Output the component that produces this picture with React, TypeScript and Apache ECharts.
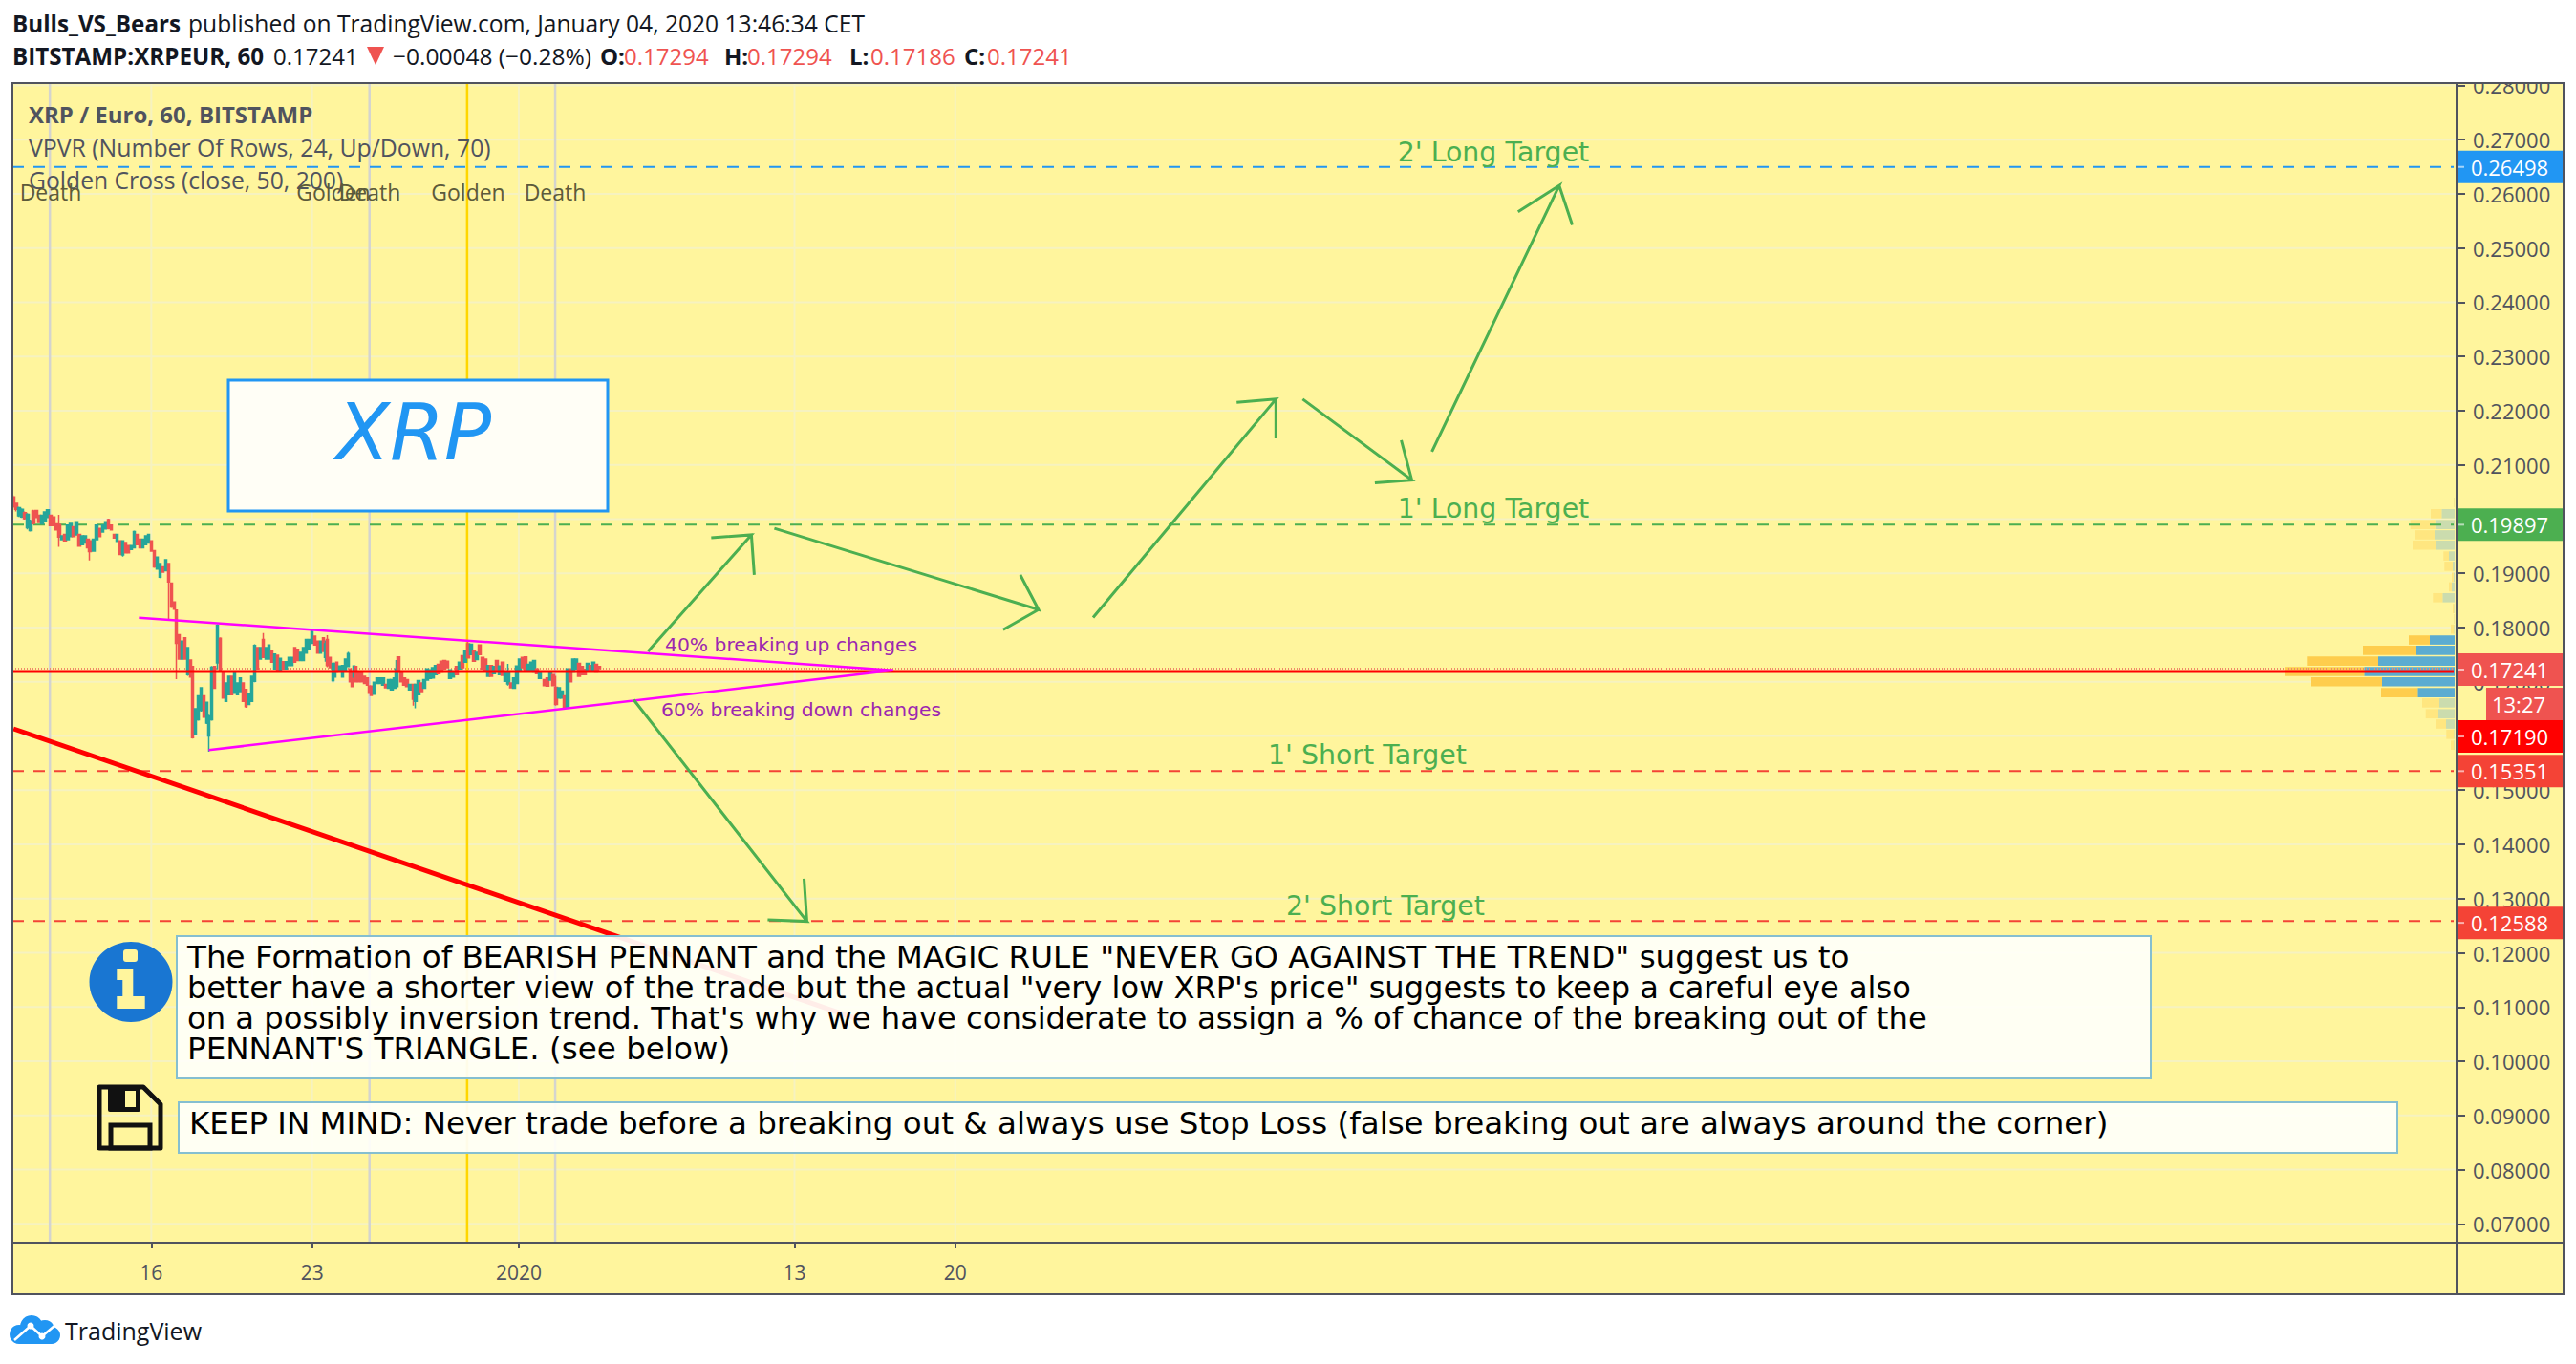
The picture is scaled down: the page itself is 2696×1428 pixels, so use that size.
import React, { useEffect, useRef } from "react";
import * as echarts from "echarts";

const PAGE_W = 2696, PAGE_H = 1428;
const PANE = { left: 13, top: 87, right: 2571, bottom: 1301 };
const xAxisMin = -529.1, xAxisMax = 2024.6;
const yAxisMin = 0.06652, yAxisMax = 0.28044;

// hours since 2020-01-01: label
const timeTicks: [number, string][] = [[-384, "16"], [-216, "23"], [0, "2020"], [288, "13"], [456, "20"]];
const priceTicks = [0.07, 0.08, 0.09, 0.1, 0.11, 0.12, 0.13, 0.14, 0.15, 0.16, 0.17, 0.18, 0.19, 0.2, 0.21, 0.22, 0.23, 0.24, 0.25, 0.26, 0.27, 0.28];

// [hour, open, close, low, high]
const candles: number[][] = [
[-528,.2041,.2023,.2020,.2044],[-525,.2029,.2018,.2014,.2030],[-522,.2006,.2021,.2004,.2023],[-519,.2004,.2018,.2002,.2020],
[-516,.2012,.2001,.1999,.2014],[-513,.1984,.2009,.1981,.2011],[-510,.1979,.1997,.1977,.1999],[-507,.2015,.1992,.1990,.2017],
[-504,.2016,.2003,.2002,.2017],[-501,.2007,.1994,.1993,.2008],[-498,.1991,.2007,.1990,.2008],[-495,.1997,.2013,.1996,.2014],
[-492,.2003,.2017,.2002,.2018],[-489,.2007,.1988,.1987,.2008],[-486,.2004,.1988,.1987,.2005],[-483,.1991,.1980,.1979,.1992],
[-480,.1990,.1967,.1949,.2008],[-477,.1962,.1969,.1961,.1970],[-474,.1972,.1960,.1959,.1973],[-471,.1962,.1989,.1961,.1990],
[-468,.1968,.1992,.1967,.1993],[-465,.1986,.1968,.1967,.1987],[-462,.1971,.1995,.1970,.1996],[-459,.1972,.1950,.1949,.1973],
[-456,.1953,.1969,.1952,.1970],[-453,.1956,.1969,.1955,.1970],[-450,.1963,.1947,.1946,.1964],[-448,.1960,.1940,.1924,.1961],
[-444,.1941,.1963,.1940,.1964],[-441,.1962,.1989,.1961,.1990],[-438,.1983,.1968,.1967,.1984],[-435,.1976,.1989,.1975,.1990],
[-432,.1982,.1995,.1981,.1996],[-429,.1999,.1983,.1981,.2001],[-426,.1989,.1980,.1979,.1990],[-423,.1972,.1965,.1964,.1973],
[-420,.1959,.1972,.1958,.1973],[-417,.1960,.1935,.1934,.1961],[-414,.1934,.1960,.1931,.1961],[-411,.1957,.1938,.1937,.1958],
[-408,.1951,.1938,.1937,.1952],[-405,.1944,.1951,.1943,.1952],[-402,.1947,.1977,.1946,.1979],[-399,.1972,.1953,.1952,.1973],
[-396,.1963,.1947,.1946,.1964],[-393,.1947,.1963,.1946,.1964],[-390,.1953,.1969,.1952,.1970],[-387,.1956,.1972,.1955,.1973],
[-384,.1960,.1941,.1940,.1961],[-381,.1942,.1912,.1910,.1943],[-378,.1908,.1930,.1907,.1931],[-375,.1893,.1918,.1891,.1919],
[-372,.1912,.1902,.1901,.1913],[-369,.1905,.1925,.1904,.1926],[-366,.1918,.1884,.1815,.1919],[-363,.1882,.1838,.1836,.1883],
[-360,.1847,.1834,.1833,.1848],[-358,.1832,.1771,.1705,.1833],[-355,.1787,.1742,.1741,.1788],[-352,.1742,.1775,.1741,.1776],
[-349,.1781,.1742,.1741,.1782],[-346,.1713,.1763,.1711,.1764],[-343,.1740,.1709,.1708,.1741],[-341,.1728,.1597,.1595,.1729],
[-338,.1603,.1650,.1601,.1651],[-335,.1630,.1674,.1628,.1675],[-332,.1647,.1689,.1645,.1690],[-329,.1674,.1635,.1633,.1675],
[-326,.1624,.1662,.1622,.1663],[-324,.1600,.1637,.1571,.1639],[-321,.1630,.1727,.1628,.1729],[-318,.1728,.1688,.1687,.1729],
[-315,.1735,.1804,.1723,.1806],[-312,.1780,.1719,.1717,.1782],[-309,.1716,.1670,.1669,.1717],[-306,.1664,.1698,.1663,.1699],
[-303,.1676,.1710,.1675,.1711],[-300,.1710,.1676,.1675,.1711],[-297,.1679,.1716,.1678,.1717],[-294,.1676,.1698,.1675,.1699],
[-291,.1682,.1707,.1681,.1708],[-288,.1698,.1664,.1663,.1699],[-285,.1686,.1654,.1652,.1687],[-282,.1658,.1677,.1657,.1678],
[-279,.1664,.1710,.1663,.1711],[-276,.1701,.1767,.1699,.1769],[-273,.1763,.1724,.1723,.1764],[-270,.1742,.1763,.1741,.1764],
[-267,.1778,.1745,.1744,.1790],[-264,.1742,.1763,.1741,.1764],[-261,.1742,.1768,.1741,.1769],[-258,.1757,.1736,.1735,.1758],
[-255,.1724,.1751,.1723,.1752],[-252,.1749,.1721,.1720,.1750],[-249,.1721,.1743,.1720,.1744],[-246,.1737,.1724,.1723,.1738],
[-243,.1724,.1737,.1723,.1738],[-240,.1730,.1745,.1729,.1746],[-237,.1730,.1745,.1729,.1746],[-234,.1763,.1736,.1735,.1764],
[-231,.1760,.1739,.1738,.1761],[-228,.1739,.1754,.1738,.1755],[-225,.1739,.1763,.1738,.1764],[-222,.1753,.1778,.1752,.1779],
[-219,.1759,.1778,.1758,.1779],[-216,.1771,.1793,.1770,.1797],[-213,.1784,.1768,.1767,.1785],[-210,.1775,.1753,.1752,.1776],
[-207,.1753,.1775,.1752,.1776],[-204,.1781,.1756,.1755,.1782],[-202,.1745,.1770,.1737,.1776],[-200,.1778,.1730,.1727,.1786],
[-197,.1745,.1726,.1725,.1746],[-194,.1702,.1734,.1699,.1735],[-192,.1709,.1734,.1708,.1735],[-190,.1736,.1718,.1717,.1737],
[-187,.1721,.1729,.1720,.1730],[-184,.1709,.1730,.1708,.1731],[-181,.1721,.1742,.1720,.1743],[-178,.1728,.1752,.1727,.1755],
[-176,.1724,.1700,.1699,.1725],[-174,.1716,.1691,.1690,.1717],[-172,.1709,.1729,.1708,.1730],[-170,.1728,.1700,.1699,.1729],
[-167,.1716,.1700,.1699,.1717],[-164,.1716,.1700,.1699,.1717],[-161,.1710,.1697,.1696,.1711],[-158,.1707,.1694,.1693,.1708],
[-156,.1692,.1679,.1678,.1693],[-154,.1692,.1675,.1674,.1693],[-151,.1677,.1699,.1676,.1700],[-148,.1697,.1707,.1696,.1708],
[-145,.1697,.1707,.1696,.1708],[-142,.1694,.1707,.1693,.1708],[-139,.1695,.1689,.1688,.1696],[-136,.1688,.1704,.1687,.1705],
[-133,.1685,.1704,.1684,.1705],[-130,.1688,.1707,.1687,.1708],[-128,.1691,.1724,.1690,.1740],[-126,.1746,.1718,.1717,.1747],
[-123,.1719,.1700,.1699,.1720],[-120,.1707,.1694,.1693,.1708],[-117,.1704,.1691,.1690,.1705],[-114,.1685,.1695,.1684,.1696],
[-110,.1695,.1668,.1656,.1696],[-108,.1664,.1695,.1651,.1696],[-105,.1676,.1702,.1675,.1703],[-102,.1698,.1682,.1681,.1699],
[-99,.1688,.1704,.1687,.1705],[-96,.1703,.1724,.1702,.1725],[-93,.1706,.1722,.1705,.1723],[-90,.1707,.1726,.1706,.1727],
[-87,.1713,.1730,.1712,.1731],[-84,.1732,.1715,.1714,.1733],[-81,.1738,.1718,.1717,.1739],[-78,.1739,.1724,.1723,.1740],
[-75,.1738,.1726,.1725,.1739],[-72,.1706,.1722,.1705,.1723],[-69,.1709,.1719,.1708,.1720],[-65,.1728,.1713,.1712,.1729],
[-62,.1724,.1736,.1723,.1737],[-59,.1748,.1726,.1725,.1749],[-56,.1736,.1757,.1735,.1758],[-53,.1770,.1744,.1743,.1776],
[-50,.1750,.1769,.1749,.1770],[-47,.1757,.1738,.1737,.1758],[-44,.1741,.1754,.1740,.1755],[-41,.1768,.1750,.1749,.1769],
[-38,.1745,.1724,.1723,.1746],[-35,.1742,.1721,.1720,.1743],[-32,.1710,.1730,.1709,.1731],[-29,.1730,.1710,.1709,.1731],
[-26,.1715,.1728,.1714,.1729],[-23,.1739,.1721,.1720,.1740],[-20,.1713,.1729,.1712,.1730],[-17,.1736,.1712,.1711,.1737],
[-14,.1701,.1716,.1700,.1717],[-11,.1696,.1716,.1693,.1733],[-8,.1698,.1689,.1688,.1699],[-5,.1688,.1707,.1687,.1708],
[-2,.1697,.1729,.1696,.1730],[1,.1721,.1742,.1720,.1743],[4,.1745,.1726,.1725,.1746],[7,.1746,.1721,.1720,.1747],
[10,.1721,.1732,.1720,.1733],[13,.1721,.1736,.1720,.1737],[16,.1718,.1739,.1717,.1740],[19,.1724,.1715,.1714,.1725],
[22,.1706,.1716,.1705,.1717],[27,.1704,.1693,.1692,.1705],[30,.1707,.1692,.1691,.1708],[33,.1703,.1716,.1702,.1717],
[36,.1713,.1693,.1692,.1714],[39,.1690,.1658,.1656,.1711],[42,.1670,.1689,.1669,.1690],[45,.1670,.1683,.1669,.1684],
[48,.1674,.1652,.1651,.1675],[51,.1653,.1724,.1651,.1725],[54,.1724,.1700,.1699,.1725],[57,.1718,.1742,.1717,.1743],
[60,.1724,.1742,.1723,.1743],[63,.1734,.1710,.1709,.1735],[66,.1728,.1713,.1712,.1729],[69,.1723,.1713,.1712,.1724],
[72,.1721,.1734,.1720,.1735],[75,.1730,.1721,.1720,.1731],[78,.1721,.1736,.1720,.1737],[81,.1732,.1718,.1717,.1733],
[84,.1728,.17241,.1720,.1729],
];

// VPVR rows: [mid price, up volume, down volume, inside value area (1/0)]
const volumeRows: number[][] = [
[.2031,.5,.5,0],[.2010,11.3,13.7,0],[.1990,26,20.3,0],[.1971,21,21,0],[.1952,24.3,19.7,0],[.1932,5.7,6,0],[.1913,8.7,2,0],
[.1893,1.7,1.3,0],[.1875,3,3,0],[.1855,10,12.7,0],[.1835,1.3,.7,0],[.1816,.5,.5,0],[.1797,3.3,.7,0],[.1777,22,26,1],
[.1758,56,40,1],[.1738,74.7,80,1],[.1719,83.3,94.7,1],[.1700,74,76,1],[.1680,38.3,38.7,1],[.1661,18,16,0],[.1641,13.3,17,0],
[.1622,11,9,0],[.1603,8,.7,0],[.1583,3.3,.7,0],
];
const volumeRowHeight = 0.0017;

const targetBlue = 0.26498, targetGreen = 0.19897, shortOne = 0.15351, shortTwo = 0.12588;
const lastPrice = 0.17241, redLevel = 0.1719;

const pennantTop = [[-397, .1818], [391, .1721]];
const pennantBottom = [[-324, .1574], [391, .1721]];
const trendDiagonal = [[-528, .16132], [357, .10758]];

// each path: start, tip, head end, tip, head end
const arrows: number[][][] = [
  [[135,.1756],[243,.1971],[201,.19656],[243,.1971],[246,.1897]],
  [[267,.1983],[543,.1833],[524,.1897],[543,.1833],[506,.1796]],
  [[600,.18185],[791,.22214],[750,.22154],[791,.22214],[791,.21487]],
  [[819,.22214],[933,.2072],[894.4,.20669],[933,.2072],[922,.21457]],
  [[954,.21245],[1087,.26153],[1044,.25669],[1087,.26153],[1100.7,.25426]],
  [[120,.1667],[301,.1258],[260,.1261],[301,.1258],[298,.13368]],
];

const crossGray = [-490, -156, 38];
const crossYellow = -54;

const infoLines = [
  'The Formation of BEARISH PENNANT and the MAGIC RULE "NEVER GO AGAINST THE TREND" suggest us to',
  'better have a shorter view of the trade but the actual "very low XRP\'s price" suggests to keep a careful eye also',
  "on a possibly inversion trend. That's why we have considerate to assign a % of chance of the breaking out of the",
  "PENNANT'S TRIANGLE. (see below)",
];
const infoSizes = [32.6, 32.1, 32.2, 32.6];
const keepInMind = "KEEP IN MIND: Never trade before a breaking out & always use Stop Loss (false breaking out are always around the corner)";

const FRAME = "#50535e", BG = "#fff59d", GRID = "#f6f2c0";
const OS = '"Open Sans", sans-serif';
const DV = '"DejaVu Sans", sans-serif';

const txt = (text: string, x: number, y: number, font: string, fill: string, textAlign = "left", z = 30) => ({
  type: "text", z, x, y, silent: true,
  style: { text, font, fill, textAlign, textVerticalAlign: "middle" },
});
const badge = (label: string, y: number, color: string, x = 2570, w = 112) => [
  { type: "rect", z: 30, shape: { x, y: y - 17, width: w, height: 34 }, style: { fill: color } },
  { type: "line", z: 31, shape: { x1: 2570, y1: y, x2: 2579, y2: y }, style: { stroke: "rgba(255,255,255,0.6)", lineWidth: 2 } },
  txt(label, 2626.5, y, `22px ${OS}`, "#ffffff", "center", 31),
];
const yOf = (v: number) => 657 + (0.18 - v) * 5675;

function buildOption() {
  const priceLine = (v: number, color: string, w: number, type: any, z = 3) => ({
    type: "line", symbol: "none", silent: true, z, data: [[xAxisMin, v], [xAxisMax - 3, v]],
    lineStyle: { color, width: w, type },
  });
  const path = (data: number[][], color: string, width: number, z = 6) => ({
    type: "line", symbol: "none", silent: true, z, data, lineStyle: { color, width, join: "miter" },
  });
  const vertical = (h: number, color: string) => path([[h, yAxisMin], [h, yAxisMax]], color, 2.5, 1);

  const graphic: any[] = [
    { type: "rect", z: -10, shape: { x: 13, y: 87, width: 2670, height: 1268 }, style: { fill: BG } },
    { type: "rect", z: 40, shape: { x: 0, y: 0, width: PAGE_W, height: 86 }, style: { fill: "#fff" } },
    { type: "rect", z: 41, shape: { x: 13, y: 87, width: 2670, height: 1268 }, style: { fill: "none", stroke: FRAME, lineWidth: 2 } },
    { type: "line", z: 41, shape: { x1: 2571, y1: 87, x2: 2571, y2: 1355 }, style: { stroke: FRAME, lineWidth: 2 } },
    { type: "line", z: 41, shape: { x1: 13, y1: 1301, x2: 2683, y2: 1301 }, style: { stroke: FRAME, lineWidth: 2 } },
    // header
    txt("Bulls_VS_Bears", 13, 24, `bold 24.2px ${OS}`, "#131722", "left", 45),
    txt("published on TradingView.com, January 04, 2020 13:46:34 CET", 197, 24, `24.6px ${OS}`, "#131722", "left", 45),
    txt("BITSTAMP:XRPEUR, 60", 13, 58, `bold 24.2px ${OS}`, "#131722", "left", 45),
    txt("0.17241", 286, 58, `24px ${OS}`, "#131722", "left", 45),
    { type: "polygon", z: 45, shape: { points: [[384, 49], [402, 49], [393, 68]] }, style: { fill: "#ef5350" } },
    txt("−0.00048 (−0.28%)", 411, 58, `24.5px ${OS}`, "#131722", "left", 45),
    ...([["O:", "0.17294", 628, 653], ["H:", "0.17294", 758, 782], ["L:", "0.17186", 889, 911], ["C:", "0.17241", 1009, 1033]] as any[]).flatMap(([k, v, a, b]) => [
      txt(k, a, 58, `bold 24px ${OS}`, "#131722", "left", 45),
      txt(v, b, 58, `24px ${OS}`, "#ef5350", "left", 45),
    ]),
    // legend
    txt("XRP / Euro, 60, BITSTAMP", 30, 119, `bold 24px ${OS}`, FRAME),
    txt("VPVR (Number Of Rows, 24, Up/Down, 70)", 30, 154, `24.8px ${OS}`, FRAME),
    txt("Golden Cross (close, 50, 200)", 30, 188, `24.7px ${OS}`, FRAME),
    ...([["Death", 53], ["Golden", 349], ["Death", 387], ["Golden", 490], ["Death", 581]] as [string, number][]).map(([t, x]) =>
      txt(t, x, 201, `23px ${OS}`, "#5c5a3a", "center")),
    // targets
    txt("2' Long Target", 1563, 159, `28.4px ${DV}`, "#4caf50", "center"),
    txt("1' Long Target", 1563, 532, `28.4px ${DV}`, "#4caf50", "center"),
    txt("1' Short Target", 1431, 790, `28.4px ${DV}`, "#4caf50", "center"),
    txt("2' Short Target", 1450, 948, `28.4px ${DV}`, "#4caf50", "center"),
    txt("40% breaking up changes", 696, 675, `20.3px ${DV}`, "#9c27b0"),
    txt("60% breaking down changes", 692, 743, `20.3px ${DV}`, "#9c27b0"),
    // XRP box
    { type: "rect", z: 20, shape: { x: 239, y: 398, width: 397, height: 137 }, style: { fill: "#fffef6", stroke: "#2196f3", lineWidth: 3 } },
    { type: "text", z: 21, x: 433, y: 452, style: { text: "XRP", font: `italic 82px ${DV}`, fill: "#2196f3", textAlign: "center", textVerticalAlign: "middle" } },
    // info box
    { type: "rect", z: 20, shape: { x: 185, y: 980, width: 2066, height: 149 }, style: { fill: "rgba(255,255,250,0.93)", stroke: "#85bfd0", lineWidth: 2 } },
    ...infoLines.map((l, i) => txt(l, 196, 1002 + i * 32, `${infoSizes[i]}px ${DV}`, "#000")),
    { type: "rect", z: 20, shape: { x: 187, y: 1154, width: 2322, height: 53 }, style: { fill: "rgba(255,255,250,0.93)", stroke: "#85bfd0", lineWidth: 2 } },
    txt(keepInMind, 198, 1176, `32.5px ${DV}`, "#000"),
    // info icon
    { type: "ellipse", z: 20, shape: { cx: 137, cy: 1028, rx: 43.5, ry: 42 }, style: { fill: "#1976d2" } },
    { type: "rect", z: 21, shape: { x: 129, y: 994, width: 15, height: 13, r: 3 }, style: { fill: BG } },
    { type: "polygon", z: 21, shape: { points: [[122.3, 1014], [139.3, 1014], [139.3, 1043], [151.7, 1043], [151.7, 1056], [122.3, 1056], [122.3, 1043], [128.3, 1043], [128.3, 1026], [122.3, 1026]] }, style: { fill: BG } },
    // floppy icon
    { type: "polygon", z: 20, shape: { points: [[104, 1138], [150, 1138], [168, 1156], [168, 1202], [104, 1202]] }, style: { fill: "none", stroke: "#111", lineWidth: 5, lineJoin: "round" } },
    { type: "rect", z: 20, shape: { x: 113, y: 1138, width: 34, height: 26, r: 2 }, style: { fill: "#111" } },
    { type: "rect", z: 21, shape: { x: 131, y: 1142, width: 11, height: 17 }, style: { fill: BG } },
    { type: "rect", z: 20, shape: { x: 116, y: 1178, width: 41, height: 24 }, style: { fill: "none", stroke: "#111", lineWidth: 5 } },
    // logo
    { type: "circle", z: 20, shape: { cx: 20, cy: 1397, r: 10 }, style: { fill: "#2196f3" } },
    { type: "circle", z: 20, shape: { cx: 33, cy: 1389, r: 12 }, style: { fill: "#2196f3" } },
    { type: "circle", z: 20, shape: { cx: 47, cy: 1392, r: 10 }, style: { fill: "#2196f3" } },
    { type: "circle", z: 20, shape: { cx: 54, cy: 1398, r: 9 }, style: { fill: "#2196f3" } },
    { type: "rect", z: 20, shape: { x: 20, y: 1394, width: 34, height: 13 }, style: { fill: "#2196f3" } },
    { type: "polyline", z: 21, shape: { points: [[15, 1403], [32, 1388], [44, 1399], [57, 1388]] }, style: { stroke: "#fff", lineWidth: 2.5, fill: "none" } },
    { type: "circle", z: 21, shape: { cx: 32, cy: 1388, r: 3.5 }, style: { fill: "#fff" } },
    { type: "circle", z: 21, shape: { cx: 44, cy: 1399, r: 3.5 }, style: { fill: "#fff" } },
    txt("TradingView", 68, 1393, `25px ${OS}`, "#131722", "left", 20),
    // price badges
    ...badge("0.26498", yOf(targetBlue), "#2196f3"),
    ...badge("0.19897", yOf(targetGreen), "#4caf50"),
    ...badge("0.17241", 701, "#ef5350"),
    { type: "rect", z: 30, shape: { x: 2602, y: 720, width: 80, height: 34 }, style: { fill: "#ef5350" } },
    txt("13:27", 2636, 737, `22px ${OS}`, "#fff", "center", 31),
    ...badge("0.17190", 771, "#ff0000"),
    ...badge("0.15351", yOf(shortOne), "#f44336"),
    ...badge("0.12588", yOf(shortTwo) + 2, "#f44336"),
  ];

  return {
    animation: false,
    backgroundColor: "#ffffff",
    graphic,
    grid: { left: PANE.left, top: PANE.top, width: PANE.right - PANE.left, height: PANE.bottom - PANE.top, containLabel: false },
    xAxis: [
      {
        type: "value", min: xAxisMin, max: xAxisMax, position: "bottom",
        axisLine: { show: false, onZero: false },
        axisTick: { length: 6, lineStyle: { color: FRAME, width: 2 }, customValues: timeTicks.map((t) => t[0]) },
        axisLabel: {
          customValues: timeTicks.map((t) => t[0]), margin: 20, color: FRAME, fontSize: 21, fontFamily: OS,
          formatter: (v: number) => (timeTicks.find((t) => t[0] === v) || ["", ""])[1],
        },
        splitLine: { show: false },
      },
      { type: "value", min: 0, max: PANE.right - PANE.left, inverse: true, show: false },
    ],
    yAxis: {
      type: "value", min: yAxisMin, max: yAxisMax, position: "right",
      axisLine: { show: false, onZero: false },
      axisTick: { length: 9, lineStyle: { color: FRAME, width: 2 }, customValues: priceTicks },
      axisLabel: {
        customValues: priceTicks, margin: 17, color: FRAME, fontSize: 22, fontFamily: OS,
        formatter: (v: number) => v.toFixed(5),
      },
      splitLine: { show: false },
    },
    series: [
      ...priceTicks.map((v) => path([[xAxisMin, v], [xAxisMax, v]], GRID, 2, 0)),
      ...timeTicks.map((t) => path([[t[0], yAxisMin], [t[0], yAxisMax]], GRID, 2, 0)),
      vertical(crossGray[0], "#d4d4cf"), vertical(crossGray[1], "#d4d4cf"), vertical(crossGray[2], "#d4d4cf"),
      vertical(crossYellow, "#ffd600"),
      {
        type: "custom", xAxisIndex: 1, yAxisIndex: 0, z: 2, silent: true, clip: true,
        data: volumeRows,
        renderItem: (_: any, api: any) => {
          const mid = api.value(0), up = api.value(1), down = api.value(2), inside = api.value(3);
          const top = api.coord([0, mid + volumeRowHeight / 2]);
          const bot = api.coord([0, mid - volumeRowHeight / 2]);
          const d = api.coord([down, mid]);
          const u = api.coord([down + up, mid]);
          const rx = top[0] - 2;
          return {
            type: "group",
            children: [
              { type: "rect", shape: { x: d[0] - 2, y: top[1], width: rx - d[0] + 2, height: bot[1] - top[1] }, style: { fill: inside ? "#5bacd1" : "#cbdcae" } },
              { type: "rect", shape: { x: u[0] - 2, y: top[1], width: d[0] - u[0], height: bot[1] - top[1] }, style: { fill: inside ? "#fecd4d" : "#ffe680" } },
            ],
          };
        },
      },
      {
        type: "candlestick", z: 4, silent: true, barWidth: 3, data: candles,
        itemStyle: { color: "#26a69a", color0: "#ef5350", borderColor: "#26a69a", borderColor0: "#ef5350", borderWidth: 1.5 },
      },
      priceLine(targetBlue, "#2196f3", 2, [12, 10]),
      priceLine(targetGreen, "#4caf50", 2, [12, 10]),
      priceLine(shortOne, "#f44336", 2, [12, 10]),
      priceLine(shortTwo, "#f44336", 2, [12, 10]),
      priceLine(lastPrice, "#ef8a6a", 2, [1, 2]),
      priceLine(redLevel, "#ff0000", 3, "solid", 5),
      path(trendDiagonal, "#ff0000", 5, 5),
      path(pennantTop, "#ff00ff", 2.5),
      path(pennantBottom, "#ff00ff", 2.5),
      ...arrows.map((a) => path(a, "#4caf50", 3)),
    ],
  };
}

export default function App() {
  const ref = useRef<HTMLDivElement>(null);
  useEffect(() => {
    const chart = echarts.init(ref.current!, undefined, { renderer: "svg", width: PAGE_W, height: PAGE_H });
    chart.setOption(buildOption() as any);
    return () => chart.dispose();
  }, []);
  return <div ref={ref} style={{ position: "absolute", left: 0, top: 0, width: PAGE_W, height: PAGE_H }} />;
}
